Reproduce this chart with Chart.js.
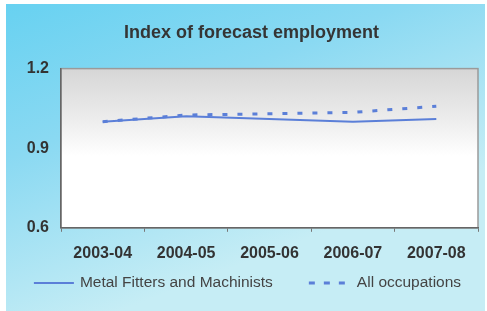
<!DOCTYPE html>
<html>
<head>
<meta charset="utf-8">
<script src="https://cdn.jsdelivr.net/npm/chart.js@4.4.0/dist/chart.umd.min.js"></script>
<style>
  html, body { margin: 0; padding: 0; background: #fff; }
  #wrap { width: 487px; height: 311px; }
</style>
</head>
<body>
<div id="wrap"><canvas id="employmentChart"></canvas></div>
<script>
var years = ["2003-04", "2004-05", "2005-06", "2006-07", "2007-08"];
var metalFitters = [1.00, 1.02, 1.01, 1.00, 1.01];
var allOccupations = [1.00, 1.025, 1.03, 1.035, 1.058];
var yTicks = [0.6, 0.9, 1.2];

var lineBlue = "#5b7fd8";
var fontFam = "Liberation Sans, Arial";

// panel + plot area backgrounds
var backdrop = {
    id: "backdrop",
    beforeDraw: function (chart) {
        var ctx = chart.ctx;
        ctx.save();
        ctx.fillStyle = "#ffffff";
        ctx.fillRect(0, 0, chart.width, chart.height);
        var g = ctx.createLinearGradient(0, 0, 120, chart.height);
        g.addColorStop(0, "#66d1f1");
        g.addColorStop(0.45, "#8ad9f2");
        g.addColorStop(1, "#c6edf5");
        ctx.fillStyle = g;
        ctx.fillRect(6, 4, chart.width - 8, chart.height - 4);

        var a = chart.chartArea;
        var pg = ctx.createLinearGradient(0, a.top, 0, a.bottom);
        pg.addColorStop(0, "#d6d6d6");
        pg.addColorStop(0.3, "#ebebeb");
        pg.addColorStop(0.55, "#ffffff");
        pg.addColorStop(1, "#ffffff");
        ctx.fillStyle = pg;
        ctx.fillRect(a.left, a.top, a.right - a.left, a.bottom - a.top);
        ctx.strokeStyle = "#9a9a9a";
        ctx.lineWidth = 1.5;
        ctx.strokeRect(a.left, a.top, a.right - a.left, a.bottom - a.top);
        ctx.restore();
    }
};

// legend drawn by hand so the gap between items can differ from its height
var lineLegend = {
    id: "lineLegend",
    afterDraw: function (chart) {
        var ctx = chart.ctx;
        var sets = chart.data.datasets;
        var sampleW = [40, 37], textGap = [6, 11], itemGap = 36;
        ctx.save();
        ctx.font = "15.5px " + fontFam;
        var total = 0;
        sets.forEach(function (ds, i) {
            total += sampleW[i] + textGap[i] + ctx.measureText(ds.label).width;
        });
        total += itemGap * (sets.length - 1);
        var x = (chart.width - total) / 2 + 4;
        var y = 283;
        sets.forEach(function (ds, i) {
            ctx.strokeStyle = ds.borderColor;
            ctx.lineWidth = ds.borderWidth;
            ctx.setLineDash(ds.borderDash ? [6, 9] : []);
            ctx.beginPath();
            ctx.moveTo(x, y);
            ctx.lineTo(x + sampleW[i], y);
            ctx.stroke();
            x += sampleW[i] + textGap[i];
            ctx.fillStyle = "#444444";
            ctx.textBaseline = "middle";
            ctx.fillText(ds.label, x, y);
            x += ctx.measureText(ds.label).width + itemGap;
        });
        ctx.restore();
    }
};

var ctx = document.getElementById("employmentChart").getContext("2d");
new Chart(ctx, {
    type: "line",
    data: {
        labels: years,
        datasets: [{
            label: "Metal Fitters and Machinists",
            data: metalFitters,
            borderColor: lineBlue,
            backgroundColor: lineBlue,
            borderWidth: 2,
            pointRadius: 0,
            tension: 0
        }, {
            label: "All occupations",
            data: allOccupations,
            borderColor: lineBlue,
            backgroundColor: lineBlue,
            borderWidth: 3,
            borderDash: [5, 10],
            pointRadius: 0,
            tension: 0
        }]
    },
    options: {
        responsive: true,
        maintainAspectRatio: false,
        animation: false,
        layout: { padding: { left: 25, right: 9, top: 14, bottom: 36 } },
        plugins: {
            title: {
                display: true,
                text: "Index of forecast employment",
                color: "#353535",
                font: { family: fontFam, size: 18, weight: "bold" },
                padding: { top: 8, bottom: 25 }
            },
            legend: { display: false },
            tooltip: { enabled: false }
        },
        scales: {
            x: {
                offset: true,
                grid: { display: true, drawOnChartArea: false, offset: true, color: "#777777", tickLength: 4 },
                border: { color: "#666666", width: 1.5 },
                ticks: {
                    color: "#333333",
                    font: { family: fontFam, size: 16, weight: "bold" },
                    padding: 12,
                    maxRotation: 0
                }
            },
            y: {
                min: 0.6,
                max: 1.2,
                afterBuildTicks: function (scale) {
                    scale.ticks = yTicks.map(function (v) { return { value: v }; });
                },
                afterFit: function (scale) { scale.width = 36; },
                grid: { display: false },
                border: { color: "#666666", width: 1.5 },
                ticks: {
                    color: "#333333",
                    font: { family: fontFam, size: 16, weight: "bold" },
                    padding: 4,
                    callback: function (v) { return v.toFixed(1); }
                }
            }
        }
    },
    plugins: [backdrop, lineLegend]
});
</script>
</body>
</html>
